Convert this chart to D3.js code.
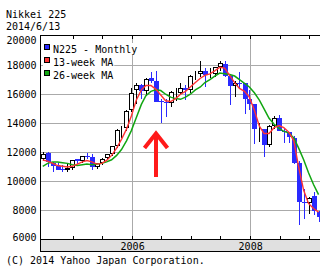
<!DOCTYPE html>
<html>
<head>
<meta charset="utf-8">
<script src="https://cdn.jsdelivr.net/npm/d3@7"></script>
<style>
  body { margin: 0; background: #fff; }
  svg { display: block; }
  text { font-family: "DejaVu Sans Mono", monospace; font-size: 10px; fill: #000; }
</style>
</head>
<body>
<div id="chart"></div>
<script>
const months = ["2004-06","2004-07","2004-08","2004-09","2004-10","2004-11","2004-12",
  "2005-01","2005-02","2005-03","2005-04","2005-05","2005-06","2005-07","2005-08","2005-09","2005-10","2005-11","2005-12",
  "2006-01","2006-02","2006-03","2006-04","2006-05","2006-06","2006-07","2006-08","2006-09","2006-10","2006-11","2006-12",
  "2007-01","2007-02","2007-03","2007-04","2007-05","2007-06","2007-07","2007-08","2007-09","2007-10","2007-11","2007-12",
  "2008-01","2008-02","2008-03","2008-04","2008-05","2008-06","2008-07","2008-08","2008-09","2008-10","2008-11","2008-12",
  "2009-01","2009-02"];

const open  = [11550,11950,11300,11100,10860,10800,10900,11520,11390,11740,11700,11030,11300,11600,11900,12450,13580,13650,14900,
  16300,16650,16200,17100,16900,15520,15480,15400,16120,16100,16400,16300,17350,17400,17600,17300,17400,17900,18100,17250,16570,16800,16740,15680,
  15300,13600,13600,12530,13850,14350,13460,13380,13000,11300,8600,8500,8990,7900];
const high  = [12000,12000,11350,11290,11150,11200,11500,11530,11740,11980,11900,11280,11590,11900,12420,13600,13800,14900,16440,
  16790,16700,17100,17560,17600,15700,15700,16200,16400,16800,16600,17300,17600,18300,17800,17800,17900,18300,18300,17300,16900,17500,16800,16300,
  15300,14050,13600,13900,14500,14600,13600,13400,13100,11400,9500,8960,9300,8000];
const low   = [11400,11000,10690,10820,10660,10680,10780,11240,11300,11530,10770,10830,11150,11450,11750,12300,12990,13500,14800,
  15340,15700,15900,16800,15450,14050,14440,15100,15520,16000,15600,16100,16950,17200,16500,17100,17200,17600,17200,15270,15800,16400,14670,14900,
  12570,12700,11690,12400,13600,13480,12670,12670,11200,6990,7400,7770,7670,7200];
const close = [11860,11330,11080,10820,10770,10900,11490,11390,11740,11670,11010,11280,11580,11900,12410,13570,13610,14870,16110,
  16650,16200,17060,16910,15470,15500,15460,16140,16130,16400,16270,17230,17380,17600,17290,17400,17880,18140,17250,16570,16790,16740,15680,15310,
  13590,13600,12530,13850,14340,13480,13380,13070,11260,8580,8500,8860,8000,7570];

const ma13 = [11480,11400,11250,11100,11050,11000,11050,11200,11350,11450,11350,11200,11250,11450,11800,12300,12900,13600,14500,
  15600,16300,16600,16600,16350,15950,15550,15500,15700,16000,16200,16500,16800,17100,17300,17400,17600,17850,17800,17300,16800,16400,16200,15800,
  14900,13800,13300,13300,13700,13850,13700,13400,12800,11000,9400,8500,8150,7900];
const ma26 = [11050,11250,11350,11350,11300,11250,11150,11100,11150,11200,11150,11200,11250,11350,11500,11800,12200,12800,13500,
  14400,15300,15900,16200,16300,16250,16000,15800,15700,15650,15800,16000,16300,16500,16800,17000,17250,17450,17400,17350,17250,17000,16750,16500,
  16100,15600,15000,14350,13950,13650,13450,13350,13000,12300,11500,10600,9800,9100];

const yTicks = [6000, 8000, 10000, 12000, 14000, 16000, 18000, 20000];
const xLabels = ["2006", "2008"];
const legendItems = ["N225 - Monthly", "13-week MA", "26-week MA"];
const legendColors = ["#2a2aff", "#ff3333", "#11a611"];

const width = 320, height = 270;
const plotLeft = 40, plotRight = 320, plotTop = 35, plotBottom = 239.5;

const svg = d3.select("#chart").append("svg")
  .attr("width", width)
  .attr("height", height);

svg.append("rect").attr("width", width).attr("height", height).attr("fill", "#fff");

const x = d3.scaleTime()
  .domain([new Date(2004, 5, 7), new Date(2009, 2, 5)])
  .range([plotLeft, plotRight]);
const y = d3.scaleLinear()
  .domain([6000, 20000])
  .range([239.8, 36]);

const parseMonth = d3.timeParse("%Y-%m");
const data = months.map((m, i) => ({
  date: d3.timeDay.offset(parseMonth(m), 23),
  o: open[i], h: high[i], l: low[i], c: close[i],
  m13: ma13[i], m26: ma26[i]
}));

svg.append("clipPath").attr("id", "clip")
  .append("rect").attr("x", plotLeft).attr("y", plotTop)
  .attr("width", plotRight - plotLeft).attr("height", plotBottom - plotTop);

// grid
const grid = svg.append("g").attr("shape-rendering", "crispEdges").attr("stroke", "#aaaaaa");
grid.selectAll(".hg")
  .data(yTicks.filter(v => v > 6000 && v < 20000))
  .join("line")
    .attr("x1", plotLeft).attr("x2", plotRight)
    .attr("y1", d => Math.floor(y(d)) + 0.5)
    .attr("y2", d => Math.floor(y(d)) + 0.5);
grid.selectAll(".vg")
  .data(xLabels)
  .join("line")
    .attr("x1", d => Math.floor(x(new Date(+d, 0, 1))) + 0.5)
    .attr("x2", d => Math.floor(x(new Date(+d, 0, 1))) + 0.5)
    .attr("y1", plotTop).attr("y2", plotBottom);

// candles
const candles = svg.append("g").attr("clip-path", "url(#clip)").attr("shape-rendering", "crispEdges");
const cg = candles.selectAll("g").data(data).join("g");
cg.append("line")
  .attr("x1", d => Math.round(x(d.date)) + 0.5)
  .attr("x2", d => Math.round(x(d.date)) + 0.5)
  .attr("y1", d => y(d.h))
  .attr("y2", d => y(d.l))
  .attr("stroke", d => d.c >= d.o ? "#000" : "#2a2aff");
cg.filter(d => d.c < d.o).append("rect")
  .attr("x", d => Math.round(x(d.date)) - 2)
  .attr("width", 5)
  .attr("y", d => Math.round(y(d.o)))
  .attr("height", d => Math.max(1, Math.round(y(d.c)) - Math.round(y(d.o))))
  .attr("fill", "#2a2aff");
cg.filter(d => d.c >= d.o).append("rect")
  .attr("x", d => Math.round(x(d.date)) - 1.5)
  .attr("width", 4)
  .attr("y", d => Math.round(y(d.c)) + 0.5)
  .attr("height", d => Math.max(0, Math.round(y(d.o)) - Math.round(y(d.c)) - 1))
  .attr("fill", "#fff")
  .attr("stroke", "#000");

// moving averages
const lines = svg.append("g").attr("clip-path", "url(#clip)").attr("fill", "none");
lines.append("path")
  .datum(data)
  .attr("stroke", "#11a611")
  .attr("stroke-width", 1.5)
  .attr("d", d3.line().x(d => x(d.date)).y(d => y(d.m26)));
lines.append("path")
  .datum(data)
  .attr("stroke", "#ff3333")
  .attr("stroke-width", 1.4)
  .attr("d", d3.line().x(d => x(d.date)).y(d => y(d.m13)));

// arrow
svg.append("path")
  .attr("d", "M156,177 L156,136 M144.5,148 L156,133.5 L167.5,148")
  .attr("fill", "none")
  .attr("stroke", "#ff1a1a")
  .attr("stroke-width", 4)
  .attr("stroke-linejoin", "miter");

// legend
const legend = svg.append("g");
legendItems.forEach((name, i) => {
  const row = legend.append("g");
  const bg = row.append("rect").attr("fill", "#fff");
  row.append("rect")
    .attr("x", 44.5).attr("y", 44.5 + i * 13)
    .attr("width", 5).attr("height", 5)
    .attr("fill", legendColors[i]).attr("stroke", "#000")
    .attr("shape-rendering", "crispEdges");
  const t = row.append("text")
    .attr("x", 53).attr("y", 53 + i * 13)
    .text(name);
  const w = t.node().getComputedTextLength();
  bg.attr("x", 43).attr("y", 43 + i * 13).attr("width", 53 + w - 43 + 1).attr("height", 12);
});

// frame and axis band
const frame = svg.append("g").attr("shape-rendering", "crispEdges");
frame.append("rect")
  .attr("x", plotLeft).attr("y", 240).attr("width", plotRight - plotLeft).attr("height", 11.5)
  .attr("fill", "#e0e0e0");
frame.append("line").attr("x1", plotLeft).attr("x2", plotRight).attr("y1", 35.5).attr("y2", 35.5).attr("stroke", "#000");
frame.append("line").attr("x1", plotLeft).attr("x2", plotRight).attr("y1", 239.5).attr("y2", 239.5).attr("stroke", "#000");
frame.append("line").attr("x1", plotLeft).attr("x2", plotRight).attr("y1", 251.5).attr("y2", 251.5).attr("stroke", "#000");
frame.append("line").attr("x1", 40.5).attr("x2", 40.5).attr("y1", 35).attr("y2", 252).attr("stroke", "#000");

const ticks = x.ticks(d3.timeMonth.every(6)).filter(d => x(d) > 50);
frame.selectAll(".tt").data(ticks).join("line")
  .attr("x1", d => Math.floor(x(d)) + 0.5).attr("x2", d => Math.floor(x(d)) + 0.5)
  .attr("y1", 36).attr("y2", 39).attr("stroke", "#000");
frame.selectAll(".bt").data(ticks).join("line")
  .attr("x1", d => Math.floor(x(d)) + 0.5).attr("x2", d => Math.floor(x(d)) + 0.5)
  .attr("y1", 236).attr("y2", 239).attr("stroke", "#000");

// labels
svg.selectAll(".yl").data(yTicks).join("text")
  .attr("x", 36.5)
  .attr("y", d => Math.min(241, Math.max(44, Math.floor(y(d)) + 4)))
  .attr("text-anchor", "end")
  .text(d => d);

svg.selectAll(".xl").data(xLabels).join("text")
  .attr("x", d => x(new Date(+d, 0, 1)))
  .attr("y", 249.5)
  .attr("text-anchor", "middle")
  .text(d => d);

svg.append("text").attr("x", 6).attr("y", 18).text("Nikkei 225");
svg.append("text").attr("x", 6).attr("y", 30).text("2014/6/13");
svg.append("text").attr("x", 6).attr("y", 263.5).text("(C) 2014 Yahoo Japan Corporation.");
</script>
</body>
</html>
